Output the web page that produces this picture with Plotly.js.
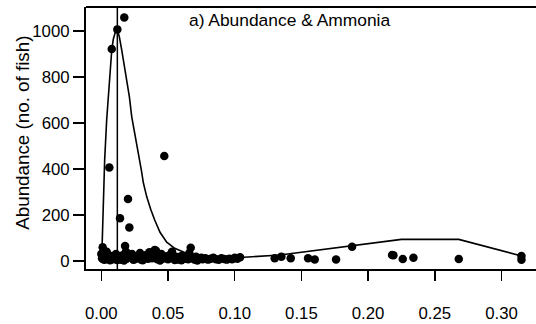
<!DOCTYPE html>
<html>
<head>
<meta charset="utf-8">
<script src="https://cdn.plot.ly/plotly-3.0.1.min.js"></script>
<style>
  html, body { margin: 0; padding: 0; background: #ffffff; }
  #chart { width: 536px; height: 324px; }
</style>
</head>
<body>
<div id="chart"></div>
<script>
// Ammonia concentration (x) and fish abundance (y) per sample
const ammonia = [
  0.0172, 0.0120, 0.0078, 0.0060, 0.0472, 0.0200, 0.0140, 0.0210, 0.0010, 0.0178, 0.0670, 0.0410,
  0.0000, 0.0005, 0.0010, 0.0015, 0.0020, 0.0025, 0.0030, 0.0035, 0.0040, 0.0050, 0.0060, 0.0070,
  0.0080, 0.0090, 0.0100, 0.0110, 0.0130, 0.0150, 0.0160, 0.0185, 0.0190, 0.0220, 0.0230, 0.0250,
  0.0260, 0.0280, 0.0290, 0.0300, 0.0320, 0.0330, 0.0350, 0.0360, 0.0380, 0.0390, 0.0400, 0.0420,
  0.0430, 0.0450, 0.0460, 0.0480, 0.0500, 0.0510, 0.0530, 0.0540, 0.0560, 0.0570, 0.0590, 0.0600,
  0.0620, 0.0630, 0.0650, 0.0660, 0.0680, 0.0700, 0.0710, 0.0730, 0.0750, 0.0760, 0.0780, 0.0800,
  0.0820, 0.0840, 0.0860, 0.0880, 0.0900, 0.0920, 0.0940, 0.0960, 0.0980, 0.1000, 0.1020, 0.1040,
  0.0020, 0.0045, 0.0065, 0.0120, 0.0170, 0.0240, 0.0310, 0.0440, 0.0550, 0.0600, 0.0720,
  0.1300, 0.1350, 0.1420, 0.1550, 0.1600, 0.1760, 0.1880, 0.2180, 0.2190, 0.2260, 0.2340, 0.2680,
  0.3150, 0.3150
];
const abundance = [
  1059, 1007, 922, 406, 456, 270, 186, 146, 60, 65, 58, 45,
  30, 12, 35, 8, 20, 5, 25, 14, 40, 10, 18, 6,
  22, 12, 8, 30, 15, 5, 25, 40, 10, 18, 30, 8,
  20, 12, 35, 6, 15, 25, 10, 38, 12, 20, 48, 8,
  15, 30, 10, 20, 8, 25, 40, 12, 18, 6, 14, 22,
  10, 16, 8, 35, 12, 6, 18, 10, 14, 8, 12, 6,
  10, 14, 8, 5, 12, 9, 6, 10, 8, 14, 10, 16,
  45, 28, 3, 4, 2, 5, 3, 2, 4, 3, 2,
  12, 19, 12, 12, 7, 7, 62, 26, 25, 9, 14, 9,
  22, 5
];

// Fitted abundance response along the ammonia gradient
const fitAmmonia = [
  0.0005, 0.0015, 0.0025, 0.0040, 0.0055, 0.0065, 0.0078, 0.0090, 0.0105, 0.0120,
  0.0135, 0.0153, 0.0170, 0.0190, 0.0210, 0.0228, 0.0250, 0.0277, 0.0300, 0.0315,
  0.0340, 0.0370, 0.0400, 0.0440, 0.0490, 0.0550, 0.0620, 0.0700, 0.0800, 0.0900,
  0.1040, 0.1340, 0.1560, 0.1880, 0.2250, 0.2680, 0.3150
];
const fitAbundance = [
  50, 265, 440, 613, 730, 801, 917, 965, 995, 1004,
  975, 917, 860, 801, 715, 627, 560, 468, 395, 340,
  280, 225, 178, 125, 82, 55, 38, 28, 20, 16,
  15, 26, 43, 65, 94, 94, 22
];

// Ammonia level at peak abundance
const optimumAmmonia = 0.012;

const xTicks = [0.00, 0.05, 0.10, 0.15, 0.20, 0.25, 0.30];
const xTickText = ["0.00", "0.05", "0.10", "0.15", "0.20", "0.25", "0.30"];
const yTicks = [0, 200, 400, 600, 800, 1000];
const yTickText = ["0", "200", "400", "600", "800", "1000"];

const family = "Liberation Sans, Arial, sans-serif";
const tickFont = { family: family, size: 16.8, color: "#000000" };
const mainFont = { family: family, size: 17.4, color: "#000000" };
const labelFont = { family: family, size: 18.8, color: "#000000" };

const traces = [
  {
    x: ammonia, y: abundance, type: "scatter", mode: "markers",
    marker: { color: "#000000", size: 8.5, line: { width: 0 } },
    hoverinfo: "skip", showlegend: false
  },
  {
    x: fitAmmonia, y: fitAbundance, type: "scatter", mode: "lines",
    line: { color: "#000000", width: 1.6 },
    hoverinfo: "skip", showlegend: false
  }
];

const layout = {
  width: 536, height: 324,
  margin: { l: 86, r: 0, t: 7, b: 55, pad: 0 },
  paper_bgcolor: "#ffffff", plot_bgcolor: "#ffffff",
  font: tickFont,
  showlegend: false,
  xaxis: {
    range: [-0.0115, 0.3259],
    tickvals: xTicks, ticktext: xTickText,
    ticks: "outside", ticklen: 10, tickwidth: 1.5, tickcolor: "#000000",
    ticklabelposition: "outside", ticklabelstandoff: 18,
    showline: true, linecolor: "#000000", linewidth: 2,
    showgrid: false, zeroline: false,
    tickfont: tickFont
  },
  yaxis: {
    range: [-34.8, 1104.3],
    tickvals: yTicks, ticktext: yTickText,
    ticksuffix: "\u00a0\u00a0\u200a",
    ticks: "outside", ticklen: 11, tickwidth: 1.5, tickcolor: "#000000",
    showline: true, linecolor: "#000000", linewidth: 2,
    showgrid: false, zeroline: false,
    tickfont: tickFont
  },
  shapes: [
    { type: "line", xref: "paper", yref: "paper", x0: 0, x1: 1, y0: 1, y1: 1,
      line: { color: "#000000", width: 2 } },
    { type: "line", xref: "x", yref: "paper", x0: optimumAmmonia, x1: optimumAmmonia, y0: 0, y1: 1,
      line: { color: "#000000", width: 1.5 } }
  ],
  annotations: [
    { text: "a) Abundance & Ammonia", xref: "paper", yref: "paper",
      x: 0.452, y: 0.952, xanchor: "center", yanchor: "middle",
      showarrow: false, font: mainFont },
    { text: "Abundance (no. of fish)", xref: "paper", yref: "paper",
      x: -0.14, y: 0.52, xanchor: "center", yanchor: "middle", textangle: -90,
      showarrow: false, font: labelFont }
  ]
};

Plotly.newPlot("chart", traces, layout, { staticPlot: true, displayModeBar: false });
</script>
</body>
</html>
